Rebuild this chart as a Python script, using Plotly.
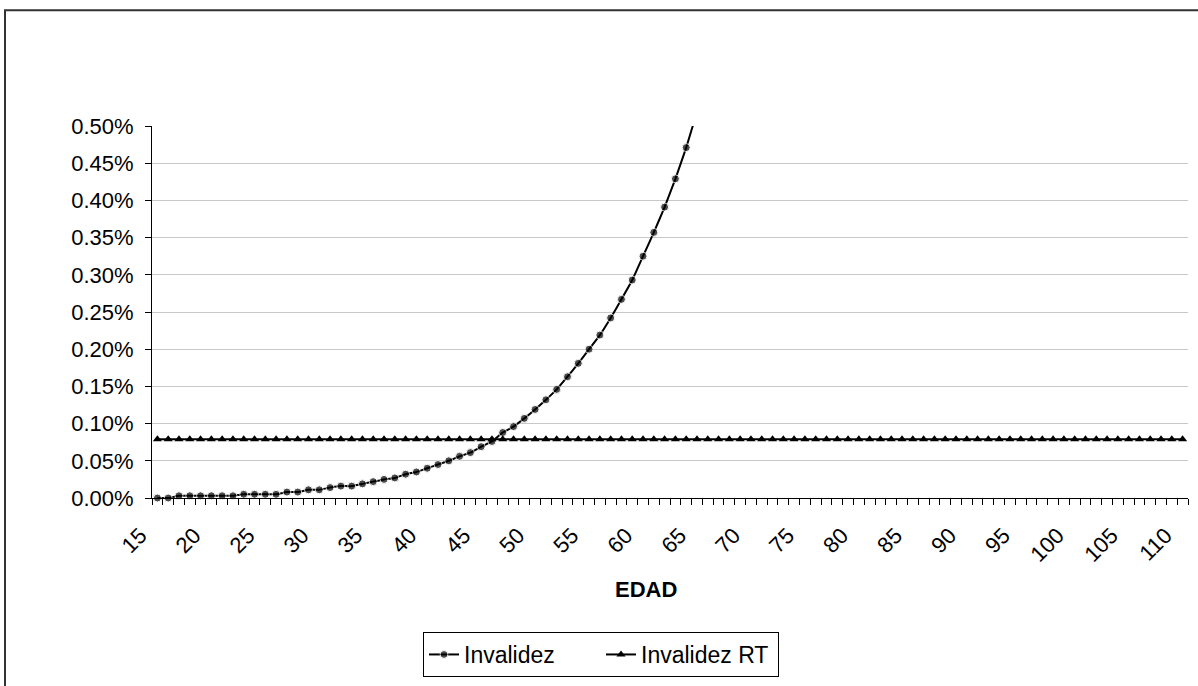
import plotly.graph_objects as go

# Ages on the category axis
ages = list(range(15, 111))

# Disability rate by age (fraction); values above the 0.50% ceiling run off the top
invalidez = [
    0.0, 0.0, 0.00003, 0.00003, 0.00003, 0.00003, 0.00003, 0.00003,
    0.00005, 0.00005, 0.00005, 0.00005, 0.00008, 0.00008, 0.00011, 0.00011,
    0.00014, 0.00016, 0.00016, 0.00019, 0.00022, 0.00025, 0.00027, 0.00032,
    0.00035, 0.00040, 0.00045, 0.00050, 0.00056, 0.00061, 0.00069, 0.00076,
    0.00088, 0.00096, 0.00107, 0.00119, 0.00132, 0.00146, 0.00163, 0.00181,
    0.00200, 0.00219, 0.00242, 0.00267, 0.00293, 0.00325, 0.00357, 0.00391,
    0.00429, 0.00471, 0.00519,
]
invalidez_ages = ages[:len(invalidez)]

# Flat RT disability rate
invalidez_rt = [0.00079] * len(ages)

y_ticks = [0.0, 0.0005, 0.001, 0.0015, 0.002, 0.0025, 0.003, 0.0035, 0.004, 0.0045, 0.005]
x_ticks = list(range(15, 111, 5))

Y_MAX = 0.005
FONT = "Liberation Sans, Arial, sans-serif"

# plot area in pixels
L, R, T, B = 152, 1188, 126, 499
W, H = 1198, 686


def px_x(px):
    return (px - L) / (R - L)


def px_y(py):
    return (B - py) / (B - T)


fig = go.Figure()

fig.add_trace(go.Scatter(
    x=invalidez_ages, y=invalidez, name="Invalidez",
    mode="lines+markers",
    line=dict(color="black", width=2, shape="spline", smoothing=0.4),
    marker=dict(symbol="circle", color="black",
                size=[8 if v <= Y_MAX else 0 for v in invalidez]),
    cliponaxis=False,
))

fig.add_trace(go.Scatter(
    x=ages, y=invalidez_rt, name="Invalidez RT",
    mode="lines+markers",
    line=dict(color="black", width=2),
    marker=dict(symbol="triangle-up", color="black", size=8),
    cliponaxis=False,
))

fig.update_layout(
    width=W, height=H,
    margin=dict(l=L, r=W - R, t=T, b=H - B, pad=0),
    paper_bgcolor="white", plot_bgcolor="white",
    font=dict(family=FONT, size=22, color="black"),
    showlegend=True,
    legend=dict(
        orientation="h",
        x=px_x(423), y=px_y(632), xanchor="left", yanchor="top",
        bordercolor="black", borderwidth=1,
        font=dict(family=FONT, size=23, color="black"),
        itemwidth=30, entrywidth=132, entrywidthmode="pixels",
        tracegroupgap=0,
    ),
    xaxis=dict(
        range=[14.5, 110.5],
        tickmode="array", tickvals=x_ticks, ticktext=[str(v) for v in x_ticks],
        tickangle=-45, ticks="",
        ticklabelshift=-17, ticklabelstandoff=15,
        showgrid=False, zeroline=False,
        showline=True, linecolor="black", linewidth=1,
        minor=dict(tick0=14.5, dtick=1, ticks="outside", ticklen=6,
                   tickcolor="black", tickwidth=1, showgrid=False),
        tickfont=dict(family=FONT, size=22, color="black"),
    ),
    yaxis=dict(
        range=[0, Y_MAX],
        tickmode="array", tickvals=y_ticks, tickformat=".2%",
        ticks="outside", ticklen=6, tickcolor="black", tickwidth=1,
        ticklabelstandoff=7,
        showgrid=True, gridcolor="#c8c8c8", gridwidth=1,
        zeroline=False,
        showline=True, linecolor="black", linewidth=1,
        tickfont=dict(family=FONT, size=22, color="black"),
    ),
    annotations=[dict(
        text="<b>EDAD</b>", xref="paper", yref="paper",
        x=px_x(646), y=px_y(591), xanchor="center", yanchor="middle",
        showarrow=False, font=dict(family=FONT, size=22, color="black"),
    )],
    shapes=[dict(
        type="rect", xref="paper", yref="paper", layer="below",
        x0=px_x(5), x1=px_x(1205), y0=px_y(695), y1=px_y(10),
        line=dict(color="#333333", width=2), fillcolor="rgba(0,0,0,0)",
    )],
)

fig.write_html("out.html")
